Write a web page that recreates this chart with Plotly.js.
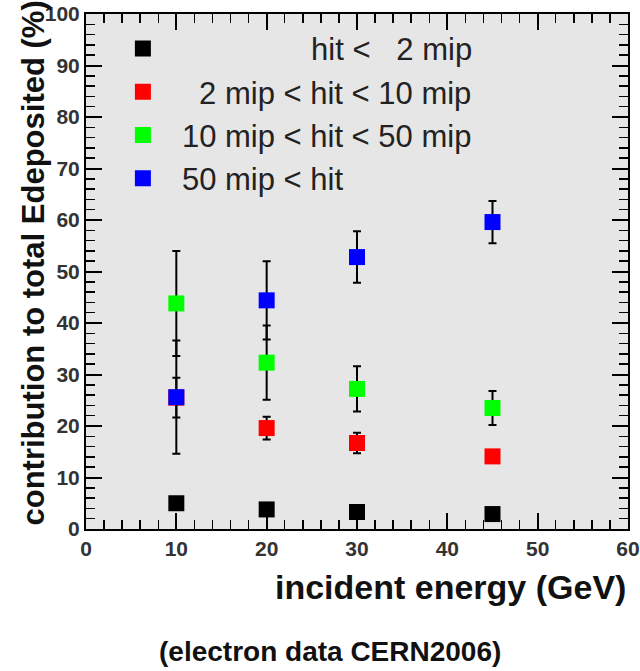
<!DOCTYPE html>
<html>
<head>
<meta charset="utf-8">
<script src="https://cdn.plot.ly/plotly-3.0.1.min.js"></script>
<style>html,body{margin:0;padding:0;background:#fff;}</style>
</head>
<body>
<div id="chart" style="width:640px;height:671px;"></div>
<script>
// incident energies (GeV)
const energies = [10, 20, 30, 45];

// contributions (%) per hit-energy class
const blackVals = [5.0, 3.8, 3.3, 2.9];
const redVals   = [25.5, 19.6, 16.7, 14.1];
const greenVals = [43.8, 32.3, 27.2, 23.5];
const blueVals  = [25.6, 44.4, 52.8, 59.6];

// symmetric errors (%)
const blackErr = [0, 0, 0, 0];
const redErr   = [3.85, 2.2, 2.0, 0.8];
const greenErr = [10.2, 7.2, 4.4, 3.3];
const blueErr  = [11.0, 7.6, 5.0, 4.1];

const NB = "\u00a0";
const names = [
  NB.repeat(15) + "hit" + NB + "<" + NB.repeat(3) + "2" + NB + "mip",
  NB.repeat(2) + "2" + NB + "mip" + NB + "<" + NB + "hit" + NB + "<" + NB + "10" + NB + "mip",
  "10" + NB + "mip" + NB + "<" + NB + "hit" + NB + "<" + NB + "50" + NB + "mip",
  "50" + NB + "mip" + NB + "<" + NB + "hit"
];
const colors = ["#000000", "#ff0000", "#00ff00", "#0000ff"];
const series = [blackVals, redVals, greenVals, blueVals];
const errs = [blackErr, redErr, greenErr, blueErr];

const traces = series.map((vals, i) => ({
  type: "scatter",
  mode: "markers",
  x: energies,
  y: vals,
  name: names[i],
  marker: {symbol: "square", size: 16, color: colors[i]},
  error_y: {type: "data", array: errs[i], visible: true, color: "#000", thickness: 2, width: 4}
}));

const font = "Liberation Sans, Arial, sans-serif";
const axisCommon = {
  showline: true, linecolor: "#000", linewidth: 2, mirror: "allticks",
  ticks: "inside", ticklen: 16, tickwidth: 2, tickcolor: "#000",
  dtick: 10, showgrid: false, zeroline: false,
  tickfont: {family: font, size: 21, color: "#333", weight: "bold"},
  minor: {ticks: "inside", dtick: 2, ticklen: 9, tickwidth: 1.5, tickcolor: "#000", showgrid: false}
};

const layout = {
  width: 640, height: 671,
  margin: {l: 86, r: 12, t: 14, b: 142},
  paper_bgcolor: "#ffffff",
  plot_bgcolor: "#e6e6e6",
  showlegend: true,
  legend: {
    x: 0.033, y: 0.985, xanchor: "left", yanchor: "top",
    itemwidth: 68,
    bgcolor: "rgba(0,0,0,0)", borderwidth: 0,
    font: {family: font, size: 31, color: "#222"},
    tracegroupgap: 0
  },
  xaxis: Object.assign({}, axisCommon, {
    range: [0, 60], tick0: 0
  }),
  yaxis: Object.assign({}, axisCommon, {
    range: [0, 100], tick0: 0
  }),
  annotations: [
    {xref: "paper", yref: "paper", x: 0, y: 0.5, xshift: -53, yshift: 8,
     xanchor: "center", yanchor: "middle", textangle: -90,
     text: "<b>contribution to total Edeposited (%)</b>", showarrow: false,
     font: {family: font, size: 31, color: "#111"}},
    {xref: "paper", yref: "paper", x: 1, y: -0.072, xanchor: "right", yanchor: "top",
     text: "<b>incident energy (GeV)</b>", showarrow: false,
     font: {family: font, size: 34, color: "#111"}},
    {xref: "paper", yref: "paper", x: 0.45, y: -0.203, xanchor: "center", yanchor: "top",
     text: "<b>(electron data CERN2006)</b>", showarrow: false,
     font: {family: font, size: 28, color: "#111"}}
  ]
};

Plotly.newPlot("chart", traces, layout, {staticPlot: true, displayModeBar: false});
</script>
</body>
</html>
